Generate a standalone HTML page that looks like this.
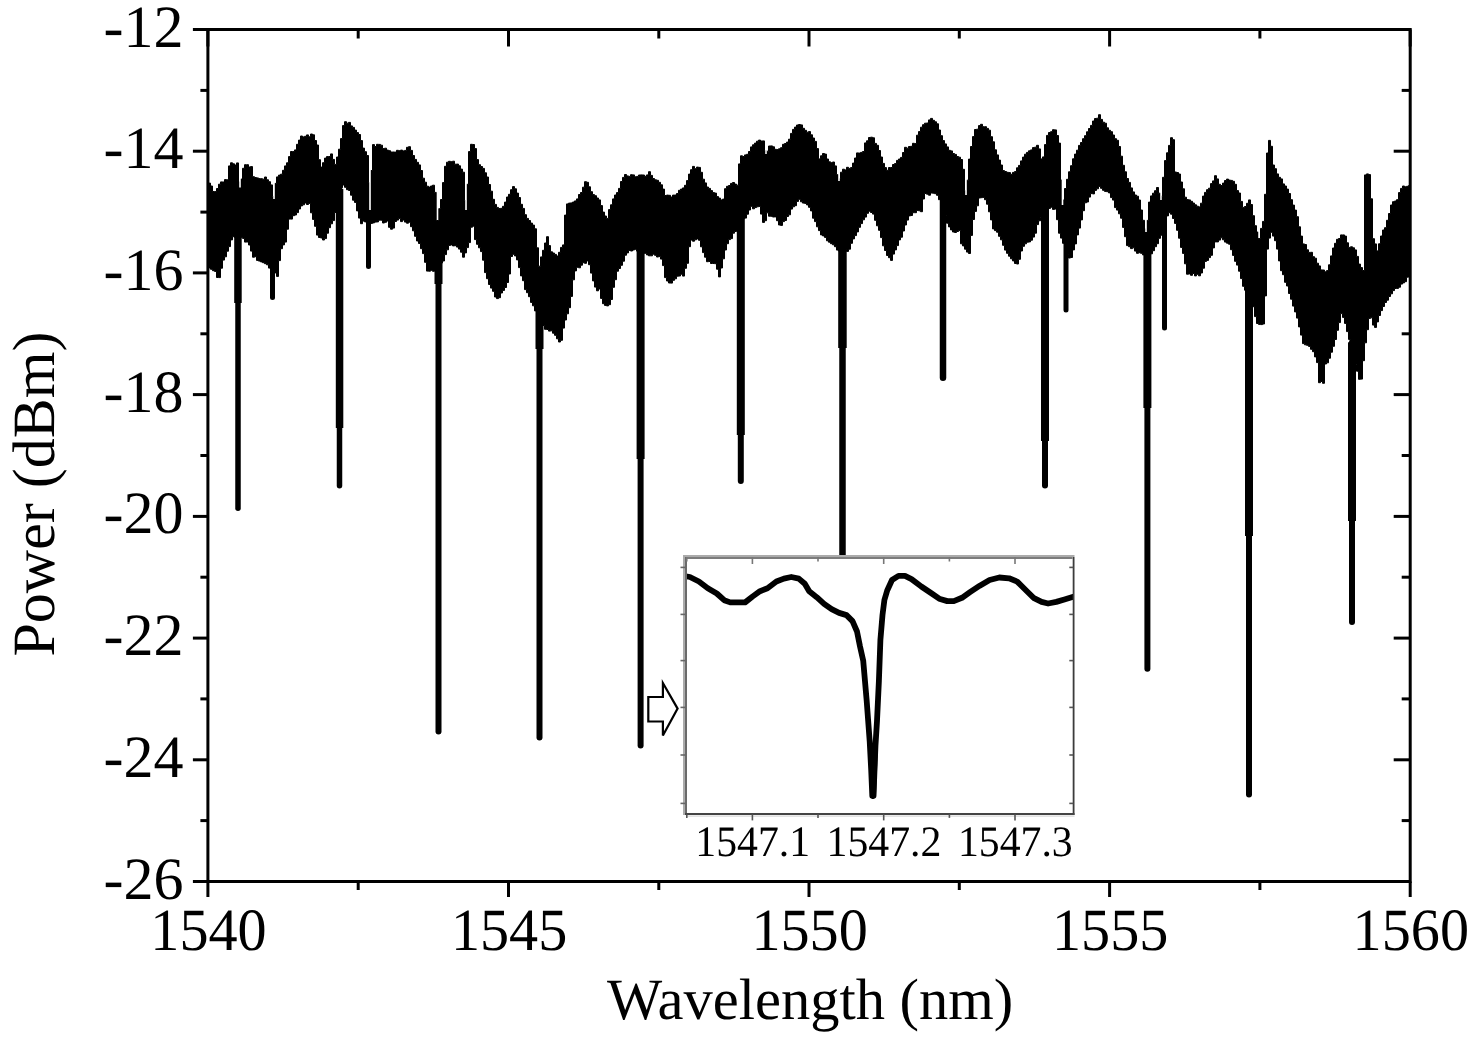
<!DOCTYPE html>
<html><head><meta charset="utf-8"><style>
html,body{margin:0;padding:0;background:#fff;width:1476px;height:1039px;overflow:hidden}
svg{display:block}
text{-webkit-font-smoothing:antialiased;text-rendering:geometricPrecision}
.lab{font-family:"Liberation Serif",serif;font-size:60px;fill:#000}
.tit{font-family:"Liberation Serif",serif;font-size:59px;fill:#000}
.ilab{font-family:"Liberation Serif",serif;font-size:43.5px;fill:#000;filter:grayscale(1)}
</style></head><body>
<svg width="1476" height="1039" viewBox="0 0 1476 1039">
<path d="M208.5,182.5 V183.1 H210.5 V186.0 H212.5 V191.5 H214.5 V191.6 H216.5 V188.5 H218.5 V184.2 H220.5 V181.9 H222.5 V182.0 H224.5 V179.6 H226.5 V179.8 H228.5 V165.9 H230.5 V162.8 H232.5 V163.8 H234.5 V165.0 H236.5 V162.9 H238.5 V182.0 H240.5 V179.1 H242.5 V168.3 H244.5 V164.7 H246.5 V164.7 H248.5 V167.0 H250.5 V166.6 H252.5 V176.7 H254.5 V177.5 H256.5 V177.9 H258.5 V178.6 H260.5 V178.7 H262.5 V179.2 H264.5 V177.0 H266.5 V179.8 H268.5 V181.7 H270.5 V184.9 H272.5 V196.4 H274.5 V183.4 H276.5 V176.9 H278.5 V175.1 H280.5 V174.2 H282.5 V170.3 H284.5 V165.9 H286.5 V162.8 H288.5 V156.6 H290.5 V151.5 H292.5 V151.6 H294.5 V149.9 H296.5 V144.3 H298.5 V140.1 H300.5 V136.0 H302.5 V136.9 H304.5 V136.3 H306.5 V134.9 H308.5 V136.8 H310.5 V134.0 H312.5 V134.8 H314.5 V140.5 H316.5 V145.0 H318.5 V159.7 H320.5 V167.1 H322.5 V162.7 H324.5 V158.1 H326.5 V156.6 H328.5 V156.5 H330.5 V153.9 H332.5 V159.4 H334.5 V164.4 H336.5 V157.0 H338.5 V149.2 H340.5 V138.6 H342.5 V125.6 H344.5 V121.7 H346.5 V123.2 H348.5 V122.4 H350.5 V125.9 H352.5 V127.4 H354.5 V130.1 H356.5 V132.6 H358.5 V134.5 H360.5 V140.6 H362.5 V148.1 H364.5 V151.7 H366.5 V155.5 H368.5 V182.8 H370.5 V170.5 H372.5 V144.6 H374.5 V146.5 H376.5 V144.3 H378.5 V144.4 H380.5 V145.2 H382.5 V148.6 H384.5 V148.2 H386.5 V150.1 H388.5 V150.7 H390.5 V152.0 H392.5 V152.0 H394.5 V152.1 H396.5 V150.3 H398.5 V150.7 H400.5 V150.1 H402.5 V150.9 H404.5 V150.4 H406.5 V147.3 H408.5 V146.7 H410.5 V150.4 H412.5 V155.5 H414.5 V159.4 H416.5 V162.3 H418.5 V164.9 H420.5 V170.5 H422.5 V178.2 H424.5 V182.2 H426.5 V186.2 H428.5 V187.1 H430.5 V186.0 H432.5 V185.2 H434.5 V192.4 H436.5 V220.5 H438.5 V208.7 H440.5 V199.5 H442.5 V182.6 H444.5 V166.3 H446.5 V162.2 H448.5 V161.3 H450.5 V161.7 H452.5 V161.2 H454.5 V164.2 H456.5 V164.1 H458.5 V165.8 H460.5 V169.1 H462.5 V172.2 H464.5 V200.5 H466.5 V184.3 H468.5 V151.6 H470.5 V144.3 H472.5 V144.5 H474.5 V148.6 H476.5 V159.6 H478.5 V164.7 H480.5 V166.5 H482.5 V168.4 H484.5 V172.8 H486.5 V177.0 H488.5 V184.5 H490.5 V191.2 H492.5 V199.3 H494.5 V204.4 H496.5 V207.4 H498.5 V208.5 H500.5 V208.3 H502.5 V206.3 H504.5 V202.1 H506.5 V197.0 H508.5 V194.3 H510.5 V189.7 H512.5 V186.6 H514.5 V188.8 H516.5 V193.1 H518.5 V197.5 H520.5 V204.3 H522.5 V208.4 H524.5 V214.7 H526.5 V218.4 H528.5 V220.5 H530.5 V223.1 H532.5 V225.1 H534.5 V228.8 H536.5 V247.8 H538.5 V266.2 H540.5 V256.9 H542.5 V250.3 H544.5 V243.0 H546.5 V236.7 H548.5 V245.6 H550.5 V251.8 H552.5 V253.0 H554.5 V254.4 H556.5 V256.0 H558.5 V252.3 H560.5 V247.4 H562.5 V244.9 H564.5 V215.1 H566.5 V203.9 H568.5 V203.1 H570.5 V202.9 H572.5 V202.0 H574.5 V200.9 H576.5 V198.9 H578.5 V194.5 H580.5 V192.5 H582.5 V187.2 H584.5 V181.7 H586.5 V182.3 H588.5 V186.8 H590.5 V191.7 H592.5 V194.6 H594.5 V195.7 H596.5 V198.0 H598.5 V199.9 H600.5 V205.6 H602.5 V212.1 H604.5 V216.0 H606.5 V218.4 H608.5 V209.6 H610.5 V204.8 H612.5 V198.9 H614.5 V195.0 H616.5 V192.6 H618.5 V188.4 H620.5 V181.5 H622.5 V177.4 H624.5 V174.5 H626.5 V175.9 H628.5 V176.4 H630.5 V174.7 H632.5 V174.9 H634.5 V176.8 H636.5 V176.4 H638.5 V175.0 H640.5 V174.9 H642.5 V175.0 H644.5 V176.3 H646.5 V174.9 H648.5 V171.7 H650.5 V175.4 H652.5 V178.5 H654.5 V179.8 H656.5 V180.3 H658.5 V182.3 H660.5 V184.8 H662.5 V189.1 H664.5 V195.5 H666.5 V195.1 H668.5 V195.3 H670.5 V197.0 H672.5 V195.1 H674.5 V195.0 H676.5 V193.5 H678.5 V190.3 H680.5 V189.1 H682.5 V187.9 H684.5 V185.3 H686.5 V180.6 H688.5 V174.1 H690.5 V169.7 H692.5 V166.4 H694.5 V168.7 H696.5 V167.1 H698.5 V167.4 H700.5 V172.3 H702.5 V179.2 H704.5 V182.9 H706.5 V187.0 H708.5 V188.4 H710.5 V190.6 H712.5 V192.6 H714.5 V193.1 H716.5 V196.6 H718.5 V198.1 H720.5 V199.9 H722.5 V199.1 H724.5 V188.7 H726.5 V186.3 H728.5 V185.5 H730.5 V183.4 H732.5 V182.5 H734.5 V184.1 H736.5 V185.2 H738.5 V163.9 H740.5 V155.8 H742.5 V156.5 H744.5 V154.9 H746.5 V154.3 H748.5 V151.5 H750.5 V146.9 H752.5 V144.8 H754.5 V143.1 H756.5 V141.2 H758.5 V140.1 H760.5 V141.0 H762.5 V140.9 H764.5 V150.8 H766.5 V151.2 H768.5 V146.0 H770.5 V145.9 H772.5 V146.8 H774.5 V149.3 H776.5 V149.6 H778.5 V148.8 H780.5 V147.7 H782.5 V144.3 H784.5 V143.5 H786.5 V142.1 H788.5 V139.2 H790.5 V133.4 H792.5 V129.4 H794.5 V127.1 H796.5 V125.0 H798.5 V124.5 H800.5 V124.9 H802.5 V128.3 H804.5 V130.3 H806.5 V132.2 H808.5 V131.6 H810.5 V134.8 H812.5 V138.0 H814.5 V141.4 H816.5 V148.6 H818.5 V158.9 H820.5 V155.8 H822.5 V153.5 H824.5 V154.1 H826.5 V159.0 H828.5 V161.8 H830.5 V162.7 H832.5 V162.0 H834.5 V165.9 H836.5 V174.7 H838.5 V178.9 H840.5 V172.2 H842.5 V169.2 H844.5 V169.9 H846.5 V167.3 H848.5 V168.4 H850.5 V167.6 H852.5 V163.1 H854.5 V158.0 H856.5 V152.9 H858.5 V153.1 H860.5 V152.4 H862.5 V151.5 H864.5 V142.9 H866.5 V140.8 H868.5 V137.5 H870.5 V137.2 H872.5 V137.8 H874.5 V143.4 H876.5 V145.3 H878.5 V150.5 H880.5 V157.0 H882.5 V163.4 H884.5 V167.6 H886.5 V170.3 H888.5 V167.5 H890.5 V167.5 H892.5 V164.5 H894.5 V163.6 H896.5 V160.4 H898.5 V159.0 H900.5 V157.4 H902.5 V152.5 H904.5 V147.3 H906.5 V148.2 H908.5 V146.5 H910.5 V146.3 H912.5 V143.3 H914.5 V143.6 H916.5 V135.2 H918.5 V131.6 H920.5 V127.2 H922.5 V124.7 H924.5 V123.2 H926.5 V123.0 H928.5 V119.9 H930.5 V118.4 H932.5 V120.3 H934.5 V121.8 H936.5 V123.8 H938.5 V130.0 H940.5 V135.7 H942.5 V140.6 H944.5 V143.9 H946.5 V146.9 H948.5 V150.3 H950.5 V150.9 H952.5 V153.5 H954.5 V154.4 H956.5 V156.5 H958.5 V157.2 H960.5 V159.5 H962.5 V169.3 H964.5 V190.8 H966.5 V180.2 H968.5 V159.1 H970.5 V146.5 H972.5 V136.6 H974.5 V129.5 H976.5 V129.2 H978.5 V125.6 H980.5 V124.3 H982.5 V126.7 H984.5 V126.7 H986.5 V128.4 H988.5 V130.2 H990.5 V136.7 H992.5 V141.8 H994.5 V149.8 H996.5 V154.9 H998.5 V160.1 H1000.5 V165.0 H1002.5 V170.6 H1004.5 V171.5 H1006.5 V172.3 H1008.5 V172.6 H1010.5 V174.3 H1012.5 V172.4 H1014.5 V171.6 H1016.5 V167.8 H1018.5 V165.4 H1020.5 V160.9 H1022.5 V157.1 H1024.5 V154.2 H1026.5 V152.4 H1028.5 V150.8 H1030.5 V149.9 H1032.5 V147.6 H1034.5 V147.2 H1036.5 V145.3 H1038.5 V148.9 H1040.5 V158.9 H1042.5 V156.9 H1044.5 V144.6 H1046.5 V135.4 H1048.5 V132.5 H1050.5 V131.7 H1052.5 V129.7 H1054.5 V129.9 H1056.5 V135.5 H1058.5 V143.1 H1060.5 V180.1 H1062.5 V200.0 H1064.5 V188.5 H1066.5 V179.3 H1068.5 V171.8 H1070.5 V165.7 H1072.5 V158.8 H1074.5 V154.1 H1076.5 V150.2 H1078.5 V145.4 H1080.5 V142.5 H1082.5 V138.7 H1084.5 V135.7 H1086.5 V131.8 H1088.5 V128.5 H1090.5 V125.4 H1092.5 V121.0 H1094.5 V118.5 H1096.5 V118.2 H1098.5 V114.7 H1100.5 V119.4 H1102.5 V122.2 H1104.5 V123.2 H1106.5 V127.8 H1108.5 V130.3 H1110.5 V131.7 H1112.5 V135.0 H1114.5 V138.7 H1116.5 V140.3 H1118.5 V146.5 H1120.5 V156.2 H1122.5 V165.3 H1124.5 V171.8 H1126.5 V178.5 H1128.5 V182.4 H1130.5 V187.9 H1132.5 V191.9 H1134.5 V195.0 H1136.5 V196.2 H1138.5 V200.0 H1140.5 V210.0 H1142.5 V220.3 H1144.5 V229.0 H1146.5 V220.4 H1148.5 V202.1 H1150.5 V195.9 H1152.5 V193.2 H1154.5 V190.7 H1156.5 V187.5 H1158.5 V193.2 H1160.5 V196.2 H1162.5 V177.3 H1164.5 V160.6 H1166.5 V152.8 H1168.5 V145.4 H1170.5 V137.7 H1172.5 V139.7 H1174.5 V172.0 H1176.5 V172.5 H1178.5 V174.0 H1180.5 V182.0 H1182.5 V188.8 H1184.5 V197.2 H1186.5 V199.6 H1188.5 V199.9 H1190.5 V201.3 H1192.5 V203.0 H1194.5 V204.8 H1196.5 V206.2 H1198.5 V206.9 H1200.5 V203.2 H1202.5 V196.1 H1204.5 V192.4 H1206.5 V189.7 H1208.5 V188.2 H1210.5 V183.6 H1212.5 V180.9 H1214.5 V175.7 H1216.5 V178.9 H1218.5 V184.3 H1220.5 V185.5 H1222.5 V183.1 H1224.5 V180.5 H1226.5 V179.1 H1228.5 V180.1 H1230.5 V180.4 H1232.5 V181.3 H1234.5 V184.3 H1236.5 V190.6 H1238.5 V193.0 H1240.5 V201.4 H1242.5 V207.4 H1244.5 V206.5 H1246.5 V203.3 H1248.5 V199.9 H1250.5 V204.5 H1252.5 V215.7 H1254.5 V225.7 H1256.5 V232.1 H1258.5 V238.6 H1260.5 V228.4 H1262.5 V221.4 H1264.5 V194.3 H1266.5 V153.0 H1268.5 V140.4 H1270.5 V146.3 H1272.5 V165.0 H1274.5 V168.7 H1276.5 V173.9 H1278.5 V177.3 H1280.5 V178.9 H1282.5 V183.9 H1284.5 V186.0 H1286.5 V189.1 H1288.5 V193.5 H1290.5 V199.7 H1292.5 V205.1 H1294.5 V210.1 H1296.5 V216.7 H1298.5 V226.8 H1300.5 V236.1 H1302.5 V243.9 H1304.5 V244.5 H1306.5 V249.8 H1308.5 V252.4 H1310.5 V252.3 H1312.5 V256.7 H1314.5 V258.2 H1316.5 V263.2 H1318.5 V265.9 H1320.5 V269.9 H1322.5 V270.0 H1324.5 V271.8 H1326.5 V270.6 H1328.5 V264.8 H1330.5 V255.9 H1332.5 V248.0 H1334.5 V243.3 H1336.5 V239.3 H1338.5 V238.5 H1340.5 V234.9 H1342.5 V234.9 H1344.5 V236.1 H1346.5 V242.8 H1348.5 V247.4 H1350.5 V246.8 H1352.5 V247.8 H1354.5 V249.9 H1356.5 V256.4 H1358.5 V264.1 H1360.5 V267.6 H1362.5 V270.5 H1364.5 V174.9 H1366.5 V173.9 H1368.5 V174.6 H1370.5 V198.8 H1372.5 V238.7 H1374.5 V243.9 H1376.5 V250.9 H1378.5 V243.8 H1380.5 V236.0 H1382.5 V230.0 H1384.5 V227.7 H1386.5 V220.3 H1388.5 V213.5 H1390.5 V205.0 H1392.5 V201.7 H1394.5 V201.0 H1396.5 V199.7 H1398.5 V192.6 H1400.5 V188.4 H1402.5 V186.0 H1404.5 V186.8 H1406.5 V186.3 H1408.5 V185.6 H1410.0 V275.0 H1408.5 V277.2 H1406.5 V281.7 H1404.5 V282.9 H1402.5 V284.1 H1400.5 V287.2 H1398.5 V288.4 H1396.5 V288.5 H1394.5 V290.6 H1392.5 V293.8 H1390.5 V296.5 H1388.5 V300.2 H1386.5 V302.5 H1384.5 V306.5 H1382.5 V310.6 H1380.5 V315.5 H1378.5 V321.9 H1376.5 V327.4 H1374.5 V325.1 H1372.5 V317.8 H1370.5 V318.4 H1368.5 V329.7 H1366.5 V342.8 H1364.5 V360.7 H1362.5 V379.1 H1360.5 V379.3 H1358.5 V371.2 H1356.5 V364.3 H1354.5 V356.7 H1352.5 V349.4 H1350.5 V339.4 H1348.5 V331.6 H1346.5 V323.4 H1344.5 V317.4 H1342.5 V313.6 H1340.5 V322.6 H1338.5 V330.3 H1336.5 V339.5 H1334.5 V346.3 H1332.5 V352.2 H1330.5 V358.2 H1328.5 V362.8 H1326.5 V364.0 H1324.5 V383.3 H1322.5 V381.5 H1320.5 V382.7 H1318.5 V362.6 H1316.5 V356.9 H1314.5 V351.7 H1312.5 V349.3 H1310.5 V346.4 H1308.5 V345.3 H1306.5 V344.8 H1304.5 V343.6 H1302.5 V335.1 H1300.5 V326.9 H1298.5 V318.1 H1296.5 V311.9 H1294.5 V306.1 H1292.5 V299.2 H1290.5 V293.5 H1288.5 V286.0 H1286.5 V282.3 H1284.5 V274.7 H1282.5 V270.7 H1280.5 V260.9 H1278.5 V249.1 H1276.5 V240.7 H1274.5 V236.1 H1272.5 V232.3 H1270.5 V238.1 H1268.5 V249.1 H1266.5 V295.9 H1264.5 V324.0 H1262.5 V324.6 H1260.5 V324.4 H1258.5 V323.5 H1256.5 V316.6 H1254.5 V306.7 H1252.5 V302.9 H1250.5 V298.8 H1248.5 V295.7 H1246.5 V290.2 H1244.5 V286.3 H1242.5 V278.6 H1240.5 V271.2 H1238.5 V265.1 H1236.5 V261.3 H1234.5 V255.4 H1232.5 V249.7 H1230.5 V244.2 H1228.5 V243.2 H1226.5 V242.1 H1224.5 V239.8 H1222.5 V237.8 H1220.5 V240.1 H1218.5 V241.9 H1216.5 V241.9 H1214.5 V247.9 H1212.5 V255.3 H1210.5 V257.6 H1208.5 V260.4 H1206.5 V261.4 H1204.5 V268.2 H1202.5 V273.0 H1200.5 V275.8 H1198.5 V274.3 H1196.5 V275.9 H1194.5 V273.5 H1192.5 V275.3 H1190.5 V273.9 H1188.5 V274.2 H1186.5 V263.8 H1184.5 V253.4 H1182.5 V247.4 H1180.5 V238.2 H1178.5 V230.3 H1176.5 V223.4 H1174.5 V218.5 H1172.5 V214.2 H1170.5 V212.7 H1168.5 V215.9 H1166.5 V222.3 H1164.5 V227.3 H1162.5 V235.2 H1160.5 V238.3 H1158.5 V243.7 H1156.5 V246.7 H1154.5 V250.7 H1152.5 V253.8 H1150.5 V254.0 H1148.5 V253.8 H1146.5 V254.8 H1144.5 V254.9 H1142.5 V253.3 H1140.5 V252.7 H1138.5 V253.3 H1136.5 V251.1 H1134.5 V247.8 H1132.5 V248.6 H1130.5 V246.7 H1128.5 V245.6 H1126.5 V236.7 H1124.5 V227.4 H1122.5 V218.2 H1120.5 V213.8 H1118.5 V210.1 H1116.5 V207.6 H1114.5 V200.1 H1112.5 V197.6 H1110.5 V192.9 H1108.5 V191.7 H1106.5 V191.4 H1104.5 V190.3 H1102.5 V188.3 H1100.5 V186.4 H1098.5 V188.8 H1096.5 V190.4 H1094.5 V193.9 H1092.5 V193.6 H1090.5 V197.1 H1088.5 V202.0 H1086.5 V202.8 H1084.5 V210.7 H1082.5 V219.9 H1080.5 V228.1 H1078.5 V234.9 H1076.5 V243.9 H1074.5 V249.9 H1072.5 V257.5 H1070.5 V258.0 H1068.5 V254.5 H1066.5 V249.9 H1064.5 V243.3 H1062.5 V238.1 H1060.5 V233.2 H1058.5 V219.7 H1056.5 V209.0 H1054.5 V209.4 H1052.5 V207.2 H1050.5 V208.4 H1048.5 V209.7 H1046.5 V214.0 H1044.5 V216.6 H1042.5 V217.8 H1040.5 V220.8 H1038.5 V224.6 H1036.5 V233.2 H1034.5 V237.1 H1032.5 V240.2 H1030.5 V241.9 H1028.5 V242.2 H1026.5 V243.8 H1024.5 V246.3 H1022.5 V251.0 H1020.5 V259.3 H1018.5 V264.0 H1016.5 V263.5 H1014.5 V260.9 H1012.5 V258.8 H1010.5 V256.2 H1008.5 V253.3 H1006.5 V250.1 H1004.5 V245.3 H1002.5 V239.8 H1000.5 V236.3 H998.5 V232.2 H996.5 V230.6 H994.5 V228.9 H992.5 V219.9 H990.5 V211.8 H988.5 V204.2 H986.5 V199.7 H984.5 V197.4 H982.5 V197.7 H980.5 V198.0 H978.5 V205.8 H976.5 V211.4 H974.5 V219.5 H972.5 V235.4 H970.5 V253.5 H968.5 V252.1 H966.5 V249.2 H964.5 V245.9 H962.5 V243.8 H960.5 V230.6 H958.5 V231.5 H956.5 V232.5 H954.5 V232.0 H952.5 V229.9 H950.5 V226.9 H948.5 V223.2 H946.5 V215.8 H944.5 V210.8 H942.5 V204.4 H940.5 V199.7 H938.5 V195.3 H936.5 V193.7 H934.5 V193.2 H932.5 V193.0 H930.5 V195.2 H928.5 V194.2 H926.5 V193.5 H924.5 V199.0 H922.5 V211.7 H920.5 V210.8 H918.5 V210.4 H916.5 V212.7 H914.5 V212.7 H912.5 V215.5 H910.5 V215.9 H908.5 V220.1 H906.5 V225.0 H904.5 V231.0 H902.5 V237.2 H900.5 V239.9 H898.5 V245.6 H896.5 V249.9 H894.5 V254.1 H892.5 V260.4 H890.5 V257.7 H888.5 V255.5 H886.5 V250.5 H884.5 V245.8 H882.5 V237.6 H880.5 V230.3 H878.5 V225.8 H876.5 V220.3 H874.5 V214.1 H872.5 V212.5 H870.5 V211.2 H868.5 V213.3 H866.5 V217.1 H864.5 V219.8 H862.5 V223.6 H860.5 V227.3 H858.5 V231.9 H856.5 V235.6 H854.5 V238.9 H852.5 V243.3 H850.5 V249.2 H848.5 V251.4 H846.5 V249.8 H844.5 V250.0 H842.5 V249.5 H840.5 V251.1 H838.5 V250.1 H836.5 V246.7 H834.5 V244.8 H832.5 V243.7 H830.5 V242.2 H828.5 V240.8 H826.5 V237.4 H824.5 V235.9 H822.5 V234.9 H820.5 V230.6 H818.5 V226.8 H816.5 V221.6 H814.5 V218.2 H812.5 V210.9 H810.5 V207.3 H808.5 V204.9 H806.5 V203.4 H804.5 V203.1 H802.5 V201.8 H800.5 V199.3 H798.5 V201.4 H796.5 V205.7 H794.5 V206.8 H792.5 V209.1 H790.5 V214.8 H788.5 V216.5 H786.5 V220.5 H784.5 V221.6 H782.5 V225.4 H780.5 V225.0 H778.5 V220.7 H776.5 V216.9 H774.5 V217.0 H772.5 V216.3 H770.5 V216.2 H768.5 V212.8 H766.5 V220.7 H764.5 V222.4 H762.5 V214.1 H760.5 V206.4 H758.5 V206.8 H756.5 V207.6 H754.5 V208.8 H752.5 V206.3 H750.5 V210.0 H748.5 V214.2 H746.5 V218.1 H744.5 V218.8 H742.5 V221.6 H740.5 V227.0 H738.5 V230.0 H736.5 V231.5 H734.5 V233.2 H732.5 V238.6 H730.5 V239.6 H728.5 V243.7 H726.5 V250.0 H724.5 V258.8 H722.5 V268.0 H720.5 V276.9 H718.5 V269.2 H716.5 V263.7 H714.5 V263.5 H712.5 V263.5 H710.5 V261.5 H708.5 V261.7 H706.5 V257.2 H704.5 V252.6 H702.5 V246.8 H700.5 V240.3 H698.5 V238.9 H696.5 V239.8 H694.5 V241.2 H692.5 V240.1 H690.5 V246.7 H688.5 V263.3 H686.5 V268.3 H684.5 V276.1 H682.5 V274.2 H680.5 V276.0 H678.5 V276.2 H676.5 V278.8 H674.5 V280.3 H672.5 V283.1 H670.5 V283.0 H668.5 V281.0 H666.5 V277.6 H664.5 V265.6 H662.5 V259.1 H660.5 V256.6 H658.5 V257.0 H656.5 V255.3 H654.5 V254.2 H652.5 V255.8 H650.5 V255.8 H648.5 V254.9 H646.5 V253.3 H644.5 V253.4 H642.5 V251.6 H640.5 V250.9 H638.5 V251.1 H636.5 V249.3 H634.5 V250.0 H632.5 V251.0 H630.5 V250.4 H628.5 V252.9 H626.5 V255.2 H624.5 V261.2 H622.5 V265.3 H620.5 V268.5 H618.5 V271.2 H616.5 V279.7 H614.5 V287.3 H612.5 V299.5 H610.5 V304.7 H608.5 V305.9 H606.5 V305.4 H604.5 V303.7 H602.5 V298.4 H600.5 V289.0 H598.5 V290.8 H596.5 V287.1 H594.5 V280.9 H592.5 V273.1 H590.5 V264.7 H588.5 V260.9 H586.5 V263.3 H584.5 V262.7 H582.5 V265.2 H580.5 V267.8 H578.5 V267.3 H576.5 V270.9 H574.5 V279.8 H572.5 V296.4 H570.5 V307.7 H568.5 V313.8 H566.5 V320.0 H564.5 V328.1 H562.5 V340.3 H560.5 V342.0 H558.5 V338.8 H556.5 V335.3 H554.5 V333.2 H552.5 V330.8 H550.5 V331.1 H548.5 V329.5 H546.5 V329.3 H544.5 V325.5 H542.5 V323.4 H540.5 V317.3 H538.5 V314.6 H536.5 V310.9 H534.5 V305.8 H532.5 V302.4 H530.5 V296.7 H528.5 V292.7 H526.5 V289.6 H524.5 V280.7 H522.5 V275.9 H520.5 V267.6 H518.5 V259.9 H516.5 V255.9 H514.5 V254.3 H512.5 V256.5 H510.5 V274.0 H508.5 V282.5 H506.5 V287.5 H504.5 V290.4 H502.5 V293.0 H500.5 V297.7 H498.5 V298.6 H496.5 V297.0 H494.5 V291.3 H492.5 V288.1 H490.5 V284.5 H488.5 V278.7 H486.5 V272.6 H484.5 V260.2 H482.5 V251.6 H480.5 V247.8 H478.5 V244.3 H476.5 V239.6 H474.5 V226.2 H472.5 V227.2 H470.5 V242.6 H468.5 V247.6 H466.5 V252.9 H464.5 V257.2 H462.5 V252.2 H460.5 V249.1 H458.5 V247.1 H456.5 V245.7 H454.5 V245.9 H452.5 V244.9 H450.5 V245.4 H448.5 V249.8 H446.5 V254.6 H444.5 V261.0 H442.5 V263.0 H440.5 V264.5 H438.5 V269.4 H436.5 V269.9 H434.5 V271.3 H432.5 V270.3 H430.5 V271.2 H428.5 V271.1 H426.5 V262.3 H424.5 V253.6 H422.5 V248.7 H420.5 V243.5 H418.5 V241.0 H416.5 V236.3 H414.5 V230.8 H412.5 V226.7 H410.5 V222.2 H408.5 V223.2 H406.5 V222.1 H404.5 V220.1 H402.5 V221.6 H400.5 V218.6 H398.5 V220.1 H396.5 V221.5 H394.5 V228.1 H392.5 V229.2 H390.5 V227.3 H388.5 V221.0 H386.5 V222.3 H384.5 V223.0 H382.5 V220.2 H380.5 V220.2 H378.5 V221.9 H376.5 V222.1 H374.5 V222.9 H372.5 V223.4 H370.5 V221.5 H368.5 V221.9 H366.5 V221.9 H364.5 V221.1 H362.5 V223.7 H360.5 V218.1 H358.5 V210.9 H356.5 V202.4 H354.5 V200.2 H352.5 V195.2 H350.5 V190.5 H348.5 V189.7 H346.5 V187.3 H344.5 V185.0 H342.5 V187.8 H340.5 V196.2 H338.5 V203.6 H336.5 V212.5 H334.5 V220.6 H332.5 V223.8 H330.5 V227.7 H328.5 V233.2 H326.5 V238.6 H324.5 V240.0 H322.5 V238.0 H320.5 V237.5 H318.5 V235.1 H316.5 V226.3 H314.5 V219.4 H312.5 V212.8 H310.5 V203.4 H308.5 V204.5 H306.5 V203.0 H304.5 V204.8 H302.5 V205.9 H300.5 V209.0 H298.5 V212.6 H296.5 V215.0 H294.5 V215.7 H292.5 V219.1 H290.5 V219.1 H288.5 V229.2 H286.5 V242.1 H284.5 V244.9 H282.5 V248.7 H280.5 V260.6 H278.5 V276.4 H276.5 V272.9 H274.5 V272.0 H272.5 V269.6 H270.5 V268.1 H268.5 V264.8 H266.5 V263.7 H264.5 V262.7 H262.5 V261.9 H260.5 V261.1 H258.5 V260.4 H256.5 V256.7 H254.5 V257.2 H252.5 V251.1 H250.5 V245.0 H248.5 V242.0 H246.5 V242.1 H244.5 V238.4 H242.5 V237.3 H240.5 V236.4 H238.5 V235.9 H236.5 V237.4 H234.5 V236.7 H232.5 V239.9 H230.5 V246.6 H228.5 V251.2 H226.5 V256.8 H224.5 V260.1 H222.5 V268.2 H220.5 V277.6 H218.5 V277.5 H216.5 V271.4 H214.5 V270.7 H212.5 V269.3 H210.5 V267.9 H208.5 Z" fill="#000" stroke="#000" stroke-width="1" />
<line x1="240.0" y1="166.0" x2="240.0" y2="187.5" stroke="#fff" stroke-width="1.6"/>
<line x1="274.0" y1="182.0" x2="274.0" y2="199.0" stroke="#fff" stroke-width="1.6"/>
<line x1="370.0" y1="159.0" x2="370.0" y2="210.0" stroke="#fff" stroke-width="1.6"/>
<line x1="437.5" y1="187.0" x2="437.5" y2="220.0" stroke="#fff" stroke-width="1.6"/>
<line x1="466.0" y1="176.0" x2="466.0" y2="210.0" stroke="#fff" stroke-width="1.6"/>
<line x1="766.0" y1="143.0" x2="766.0" y2="154.0" stroke="#fff" stroke-width="1.5"/>
<line x1="839.0" y1="166.0" x2="839.0" y2="181.0" stroke="#fff" stroke-width="1.6"/>
<line x1="966.0" y1="163.0" x2="966.0" y2="195.0" stroke="#fff" stroke-width="1.6"/>
<line x1="1062.5" y1="147.0" x2="1062.5" y2="205.0" stroke="#fff" stroke-width="1.6"/>
<line x1="1146.0" y1="201.0" x2="1146.0" y2="232.0" stroke="#fff" stroke-width="1.6"/>
<line x1="1161.0" y1="190.0" x2="1161.0" y2="200.0" stroke="#fff" stroke-width="1.5"/>
<line x1="1259.0" y1="226.0" x2="1259.0" y2="238.0" stroke="#fff" stroke-width="1.5"/>
<rect x="234.2" y="229.4" width="7.5" height="73.6" fill="#000"/>
<line x1="238.0" y1="229.4" x2="238.0" y2="508.2" stroke="#000" stroke-width="5.5" stroke-linecap="round"/>
<line x1="272.5" y1="262.0" x2="272.5" y2="297.5" stroke="#000" stroke-width="5.0" stroke-linecap="round"/>
<rect x="335.8" y="189.0" width="7.5" height="239.0" fill="#000"/>
<line x1="339.5" y1="189.0" x2="339.5" y2="485.8" stroke="#000" stroke-width="5.5" stroke-linecap="round"/>
<line x1="368.5" y1="214.5" x2="368.5" y2="266.5" stroke="#000" stroke-width="5.0" stroke-linecap="round"/>
<rect x="434.5" y="258.9" width="8.0" height="25.1" fill="#000"/>
<line x1="438.5" y1="258.9" x2="438.5" y2="731.5" stroke="#000" stroke-width="6.0" stroke-linecap="round"/>
<rect x="535.5" y="310.5" width="8.0" height="38.5" fill="#000"/>
<line x1="539.5" y1="310.5" x2="539.5" y2="737.5" stroke="#000" stroke-width="6.0" stroke-linecap="round"/>
<rect x="636.6" y="244.4" width="8.0" height="214.6" fill="#000"/>
<line x1="640.6" y1="244.4" x2="640.6" y2="745.5" stroke="#000" stroke-width="6.0" stroke-linecap="round"/>
<rect x="736.8" y="215.7" width="8.0" height="219.3" fill="#000"/>
<line x1="740.8" y1="215.7" x2="740.8" y2="481.0" stroke="#000" stroke-width="6.0" stroke-linecap="round"/>
<rect x="838.2" y="242.4" width="8.5" height="105.6" fill="#000"/>
<line x1="842.5" y1="242.4" x2="842.5" y2="556.8" stroke="#000" stroke-width="6.5" stroke-linecap="round"/>
<line x1="943.0" y1="201.1" x2="943.0" y2="377.8" stroke="#000" stroke-width="6.5" stroke-linecap="round"/>
<rect x="1041.0" y="205.8" width="8.0" height="235.2" fill="#000"/>
<line x1="1045.0" y1="205.8" x2="1045.0" y2="485.5" stroke="#000" stroke-width="6.0" stroke-linecap="round"/>
<line x1="1066.0" y1="242.0" x2="1066.0" y2="310.0" stroke="#000" stroke-width="5.0" stroke-linecap="round"/>
<rect x="1143.4" y="245.1" width="8.0" height="162.9" fill="#000"/>
<line x1="1147.4" y1="245.1" x2="1147.4" y2="668.8" stroke="#000" stroke-width="6.0" stroke-linecap="round"/>
<line x1="1164.5" y1="217.4" x2="1164.5" y2="328.0" stroke="#000" stroke-width="5.0" stroke-linecap="round"/>
<rect x="1245.0" y="289.7" width="8.0" height="246.3" fill="#000"/>
<line x1="1249.0" y1="289.7" x2="1249.0" y2="794.5" stroke="#000" stroke-width="6.0" stroke-linecap="round"/>
<rect x="1348.0" y="342.3" width="8.0" height="178.7" fill="#000"/>
<line x1="1352.0" y1="342.3" x2="1352.0" y2="622.0" stroke="#000" stroke-width="6.0" stroke-linecap="round"/>
<rect x="207.9" y="29.5" width="1202.3" height="852.0" fill="none" stroke="#000" stroke-width="3"/>
<line x1="192.9" y1="29.5" x2="207.9" y2="29.5" stroke="#000" stroke-width="3"/>
<line x1="1393.7" y1="29.5" x2="1410.2" y2="29.5" stroke="#000" stroke-width="3"/>
<line x1="200.4" y1="90.4" x2="207.9" y2="90.4" stroke="#000" stroke-width="3"/>
<line x1="1401.7" y1="90.4" x2="1410.2" y2="90.4" stroke="#000" stroke-width="3"/>
<line x1="192.9" y1="151.2" x2="207.9" y2="151.2" stroke="#000" stroke-width="3"/>
<line x1="1393.7" y1="151.2" x2="1410.2" y2="151.2" stroke="#000" stroke-width="3"/>
<line x1="200.4" y1="212.1" x2="207.9" y2="212.1" stroke="#000" stroke-width="3"/>
<line x1="1401.7" y1="212.1" x2="1410.2" y2="212.1" stroke="#000" stroke-width="3"/>
<line x1="192.9" y1="272.9" x2="207.9" y2="272.9" stroke="#000" stroke-width="3"/>
<line x1="1393.7" y1="272.9" x2="1410.2" y2="272.9" stroke="#000" stroke-width="3"/>
<line x1="200.4" y1="333.8" x2="207.9" y2="333.8" stroke="#000" stroke-width="3"/>
<line x1="1401.7" y1="333.8" x2="1410.2" y2="333.8" stroke="#000" stroke-width="3"/>
<line x1="192.9" y1="394.6" x2="207.9" y2="394.6" stroke="#000" stroke-width="3"/>
<line x1="1393.7" y1="394.6" x2="1410.2" y2="394.6" stroke="#000" stroke-width="3"/>
<line x1="200.4" y1="455.5" x2="207.9" y2="455.5" stroke="#000" stroke-width="3"/>
<line x1="1401.7" y1="455.5" x2="1410.2" y2="455.5" stroke="#000" stroke-width="3"/>
<line x1="192.9" y1="516.4" x2="207.9" y2="516.4" stroke="#000" stroke-width="3"/>
<line x1="1393.7" y1="516.4" x2="1410.2" y2="516.4" stroke="#000" stroke-width="3"/>
<line x1="200.4" y1="577.2" x2="207.9" y2="577.2" stroke="#000" stroke-width="3"/>
<line x1="1401.7" y1="577.2" x2="1410.2" y2="577.2" stroke="#000" stroke-width="3"/>
<line x1="192.9" y1="638.1" x2="207.9" y2="638.1" stroke="#000" stroke-width="3"/>
<line x1="1393.7" y1="638.1" x2="1410.2" y2="638.1" stroke="#000" stroke-width="3"/>
<line x1="200.4" y1="698.9" x2="207.9" y2="698.9" stroke="#000" stroke-width="3"/>
<line x1="1401.7" y1="698.9" x2="1410.2" y2="698.9" stroke="#000" stroke-width="3"/>
<line x1="192.9" y1="759.8" x2="207.9" y2="759.8" stroke="#000" stroke-width="3"/>
<line x1="1393.7" y1="759.8" x2="1410.2" y2="759.8" stroke="#000" stroke-width="3"/>
<line x1="200.4" y1="820.6" x2="207.9" y2="820.6" stroke="#000" stroke-width="3"/>
<line x1="1401.7" y1="820.6" x2="1410.2" y2="820.6" stroke="#000" stroke-width="3"/>
<line x1="192.9" y1="881.5" x2="207.9" y2="881.5" stroke="#000" stroke-width="3"/>
<line x1="1393.7" y1="881.5" x2="1410.2" y2="881.5" stroke="#000" stroke-width="3"/>
<line x1="207.9" y1="881.5" x2="207.9" y2="897.0" stroke="#000" stroke-width="3"/>
<line x1="207.9" y1="29.5" x2="207.9" y2="46.5" stroke="#000" stroke-width="3"/>
<line x1="358.2" y1="881.5" x2="358.2" y2="890.0" stroke="#000" stroke-width="3"/>
<line x1="358.2" y1="29.5" x2="358.2" y2="38.5" stroke="#000" stroke-width="3"/>
<line x1="508.5" y1="881.5" x2="508.5" y2="897.0" stroke="#000" stroke-width="3"/>
<line x1="508.5" y1="29.5" x2="508.5" y2="46.5" stroke="#000" stroke-width="3"/>
<line x1="658.8" y1="881.5" x2="658.8" y2="890.0" stroke="#000" stroke-width="3"/>
<line x1="658.8" y1="29.5" x2="658.8" y2="38.5" stroke="#000" stroke-width="3"/>
<line x1="809.0" y1="881.5" x2="809.0" y2="897.0" stroke="#000" stroke-width="3"/>
<line x1="809.0" y1="29.5" x2="809.0" y2="46.5" stroke="#000" stroke-width="3"/>
<line x1="959.3" y1="881.5" x2="959.3" y2="890.0" stroke="#000" stroke-width="3"/>
<line x1="959.3" y1="29.5" x2="959.3" y2="38.5" stroke="#000" stroke-width="3"/>
<line x1="1109.6" y1="881.5" x2="1109.6" y2="897.0" stroke="#000" stroke-width="3"/>
<line x1="1109.6" y1="29.5" x2="1109.6" y2="46.5" stroke="#000" stroke-width="3"/>
<line x1="1259.9" y1="881.5" x2="1259.9" y2="890.0" stroke="#000" stroke-width="3"/>
<line x1="1259.9" y1="29.5" x2="1259.9" y2="38.5" stroke="#000" stroke-width="3"/>
<line x1="1410.2" y1="881.5" x2="1410.2" y2="897.0" stroke="#000" stroke-width="3"/>
<line x1="1410.2" y1="29.5" x2="1410.2" y2="46.5" stroke="#000" stroke-width="3"/>
<text x="183.5" y="46.5" text-anchor="end" class="lab">-12</text>
<text x="183.5" y="168.2" text-anchor="end" class="lab">-14</text>
<text x="183.5" y="289.9" text-anchor="end" class="lab">-16</text>
<text x="183.5" y="411.6" text-anchor="end" class="lab">-18</text>
<text x="183.5" y="533.4" text-anchor="end" class="lab">-20</text>
<text x="183.5" y="655.1" text-anchor="end" class="lab">-22</text>
<text x="183.5" y="776.8" text-anchor="end" class="lab">-24</text>
<text x="183.5" y="898.5" text-anchor="end" class="lab">-26</text>
<text x="0" y="950" text-anchor="middle" class="lab" transform="translate(208.5,0) scale(0.97,1)">1540</text>
<text x="0" y="950" text-anchor="middle" class="lab" transform="translate(509.1,0) scale(0.97,1)">1545</text>
<text x="0" y="950" text-anchor="middle" class="lab" transform="translate(809.6,0) scale(0.97,1)">1550</text>
<text x="0" y="950" text-anchor="middle" class="lab" transform="translate(1110.2,0) scale(0.97,1)">1555</text>
<text x="0" y="950" text-anchor="middle" class="lab" transform="translate(1410.8,0) scale(0.97,1)">1560</text>
<text x="607" y="1019" class="tit" style="font-size:58.5px">Wavelength (nm)</text>
<text transform="translate(54,656.5) rotate(-90)" x="0" y="0" class="tit" style="font-size:60px">Power (dBm)</text>
<rect x="685.5" y="557.0" width="387.8" height="257.4" fill="#fff"/>
<clipPath id="ic"><rect x="685.5" y="557.0" width="387.8" height="257.4"/></clipPath>
<text x="0" y="855.5" text-anchor="middle" class="ilab" transform="translate(752.7,0) scale(0.96,1)">1547.1</text>
<text x="0" y="855.5" text-anchor="middle" class="ilab" transform="translate(884.0,0) scale(0.96,1)">1547.2</text>
<text x="0" y="855.5" text-anchor="middle" class="ilab" transform="translate(1015.3,0) scale(0.96,1)">1547.3</text>
<polygon points="867.8,745 878,745 876,797 871,797" fill="#000"/>
<polyline clip-path="url(#ic)" points="683.0,575.8 689.9,577.0 698.9,581.5 707.8,588.3 716.8,593.5 724.2,600.2 730.2,602.4 737.6,602.4 745.1,602.4 752.6,596.5 760.0,591.2 767.5,588.3 776.4,581.5 783.9,578.6 791.3,577.0 798.8,578.6 804.8,583.8 809.2,591.2 816.7,597.2 824.1,603.9 831.6,609.1 839.1,612.9 846.5,615.1 852.5,621.1 857.0,631.5 860.0,646.4 863.2,660.6 866.7,701.0 869.7,741.4 871.2,770.0 872.3,796.0 873.5,796.0 874.5,770.0 875.5,745.0 877.0,721.0 878.9,681.0 880.4,640.0 882.5,615.0 884.4,600.0 887.2,590.5 892.0,580.0 898.5,575.9 905.0,575.9 911.5,579.1 921.3,586.5 931.0,593.0 939.2,598.7 947.3,601.1 953.8,601.1 962.0,597.8 970.0,592.2 979.8,585.7 989.6,580.0 999.3,577.5 1009.1,578.3 1017.2,581.6 1025.4,589.7 1033.5,597.8 1041.6,601.9 1048.1,603.5 1056.3,601.9 1064.4,599.5 1072.5,597.0 1076.0,596.0" fill="none" stroke="#000" stroke-width="5.8" stroke-linejoin="round" stroke-linecap="round"/>
<polygon points="648.3,697 662.9,697 662.9,683 677.6,708.6 662.9,735.5 662.9,721.5 648.3,721.5" fill="#fff" stroke="#000" stroke-width="2.2"/>
<line x1="683" y1="556" x2="1074.5" y2="556" stroke="#ababab" stroke-width="2"/>
<line x1="685" y1="558" x2="1072.5" y2="558" stroke="#7c7c7c" stroke-width="2"/>
<line x1="684" y1="555" x2="684" y2="815" stroke="#ababab" stroke-width="2"/>
<line x1="686" y1="557" x2="686" y2="814" stroke="#6a6a6a" stroke-width="2"/>
<line x1="1073.6" y1="557" x2="1073.6" y2="815" stroke="#3c3c3c" stroke-width="1.8"/>
<line x1="685" y1="814" x2="1074.5" y2="814" stroke="#444" stroke-width="1.8"/>
<line x1="687" y1="816.2" x2="1074.5" y2="816.2" stroke="#d8d8d8" stroke-width="1.2"/>
<line x1="686.8" y1="814.4" x2="686.8" y2="817.9" stroke="#555" stroke-width="1.6"/>
<line x1="686.8" y1="557.0" x2="686.8" y2="561.5" stroke="#777" stroke-width="1.6"/>
<line x1="752.4" y1="814.4" x2="752.4" y2="820.4" stroke="#555" stroke-width="1.6"/>
<line x1="752.4" y1="557.0" x2="752.4" y2="564.0" stroke="#777" stroke-width="1.6"/>
<line x1="818.0" y1="814.4" x2="818.0" y2="817.9" stroke="#555" stroke-width="1.6"/>
<line x1="818.0" y1="557.0" x2="818.0" y2="561.5" stroke="#777" stroke-width="1.6"/>
<line x1="883.7" y1="814.4" x2="883.7" y2="820.4" stroke="#555" stroke-width="1.6"/>
<line x1="883.7" y1="557.0" x2="883.7" y2="564.0" stroke="#777" stroke-width="1.6"/>
<line x1="949.4" y1="814.4" x2="949.4" y2="817.9" stroke="#555" stroke-width="1.6"/>
<line x1="949.4" y1="557.0" x2="949.4" y2="561.5" stroke="#777" stroke-width="1.6"/>
<line x1="1015.0" y1="814.4" x2="1015.0" y2="820.4" stroke="#555" stroke-width="1.6"/>
<line x1="1015.0" y1="557.0" x2="1015.0" y2="564.0" stroke="#777" stroke-width="1.6"/>
<line x1="680.5" y1="567.4" x2="685.5" y2="567.4" stroke="#666" stroke-width="1.6"/>
<line x1="1069.3" y1="567.4" x2="1073.3" y2="567.4" stroke="#555" stroke-width="1.6"/>
<line x1="680.5" y1="614.4" x2="685.5" y2="614.4" stroke="#666" stroke-width="1.6"/>
<line x1="1069.3" y1="614.4" x2="1073.3" y2="614.4" stroke="#555" stroke-width="1.6"/>
<line x1="680.5" y1="660.6" x2="685.5" y2="660.6" stroke="#666" stroke-width="1.6"/>
<line x1="1069.3" y1="660.6" x2="1073.3" y2="660.6" stroke="#555" stroke-width="1.6"/>
<line x1="680.5" y1="707.4" x2="685.5" y2="707.4" stroke="#666" stroke-width="1.6"/>
<line x1="1069.3" y1="707.4" x2="1073.3" y2="707.4" stroke="#555" stroke-width="1.6"/>
<line x1="680.5" y1="755.0" x2="685.5" y2="755.0" stroke="#666" stroke-width="1.6"/>
<line x1="1069.3" y1="755.0" x2="1073.3" y2="755.0" stroke="#555" stroke-width="1.6"/>
<line x1="680.5" y1="803.4" x2="685.5" y2="803.4" stroke="#666" stroke-width="1.6"/>
<line x1="1069.3" y1="803.4" x2="1073.3" y2="803.4" stroke="#555" stroke-width="1.6"/>
</svg>
</body></html>
